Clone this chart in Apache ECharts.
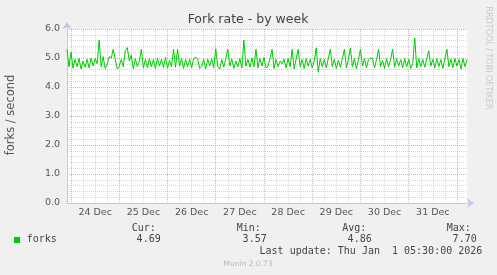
<!DOCTYPE html>
<html><head><meta charset="utf-8">
<script src="https://cdn.jsdelivr.net/npm/echarts@6/dist/echarts.min.js"></script>
<style>html,body{margin:0;padding:0;background:#f0f0f0}#c{width:497px;height:275px}</style>
</head><body><div id="c"></div>
<script>
// hourly samples, first at 23 Dec 22:00, last at 1 Jan 05:00
const startHour = 22;
const dayLabels = ['24 Dec','25 Dec','26 Dec','27 Dec','28 Dec','29 Dec','30 Dec','31 Dec'];
const yTicks = [0, 1, 2, 3, 4, 5, 6];
const forks = [
 5.30,4.70,5.20,4.65,4.95,4.70,4.98,4.62,4.90,4.68,
 4.95,4.66,5.00,4.72,4.98,4.80,5.62,4.70,5.05,4.64,
 4.80,5.05,5.00,5.30,4.95,4.62,4.72,4.95,4.70,5.25,
 5.36,4.90,5.10,4.62,4.98,4.70,4.90,5.30,4.65,4.95,
 4.66,4.98,4.70,4.95,4.64,5.00,4.72,4.96,4.68,5.02,
 4.65,4.92,4.70,5.30,4.68,5.30,4.72,4.98,4.64,4.95,
 4.70,4.96,4.66,4.98,5.02,4.98,4.64,4.70,4.95,4.62,
 4.96,4.72,4.98,4.66,5.32,4.70,4.62,4.95,4.68,4.98,
 5.30,4.72,4.96,4.64,4.90,4.70,4.98,4.66,5.62,4.72,
 4.95,4.68,5.00,4.70,5.30,4.66,4.98,4.72,5.02,4.66,
 4.72,4.98,5.30,4.64,4.95,4.70,4.90,4.80,4.96,4.66,
 4.98,4.70,5.30,4.62,4.96,5.30,4.70,4.95,4.64,4.98,
 4.72,4.96,4.66,4.90,5.35,4.51,4.98,4.70,4.95,4.66,
 4.98,5.30,4.70,4.96,4.64,4.92,4.68,4.98,5.30,4.66,
 4.95,5.35,4.70,4.98,4.62,4.96,5.30,4.72,4.98,4.66,
 4.95,5.00,4.98,4.66,4.95,5.30,4.70,4.92,4.64,4.98,
 4.70,4.96,5.30,4.68,4.98,4.72,4.95,4.66,4.98,4.70,
 4.96,4.64,4.80,5.69,4.66,4.98,4.70,4.95,4.68,4.98,
 5.25,4.72,4.96,4.66,4.98,4.70,4.95,4.64,4.98,5.30,
 4.70,4.96,4.66,4.98,4.72,4.95,4.62,4.98,4.70,4.95
];
const statNames = ['Cur:','Min:','Avg:','Max:'];
const statValues = ['4.69','3.57','4.86','7.70'];
const seriesName = 'forks';

const categories = forks.map((v, i) => String((startHour + i) % 24));
const hourOf = i => (startHour + i) % 24;

const MAJOR = 'rgba(235,110,110,0.6)';
const MINOR = 'rgba(160,160,160,0.4)';
const AXIS = '#c4c4f4';
const sans = '"DejaVu Sans"';
const mono = '"DejaVu Sans Mono"';

const statLeft = [131.7, 236.7, 342.3, 446.7];
const statRight = [160.7, 266.7, 371.7, 476.7];

const graphics = [
  {type:'text', x:248, y:19.5, style:{text:'Fork rate - by week', font:'12.5px '+sans, fill:'#444', align:'center', verticalAlign:'middle', textAlign:'center', textVerticalAlign:'middle'}},
  {type:'text', x:11, y:115, rotation:Math.PI/2, style:{text:'forks / second', font:'11.5px '+sans, fill:'#555', align:'center', verticalAlign:'middle', textAlign:'center', textVerticalAlign:'middle'}},
  {type:'text', x:488, y:58, rotation:-Math.PI/2, style:{text:'RRDTOOL / TOBI OETIKER', font:'8px '+sans, fill:'#c8c8c8', align:'center', verticalAlign:'middle', textAlign:'center', textVerticalAlign:'middle'}},
  {type:'rect', shape:{x:14, y:237, width:6, height:6}, style:{fill:'#00cc00'}},
  {type:'text', x:26.7, y:239.5, style:{text:seriesName, font:'10px '+mono, fill:'#444', align:'left', verticalAlign:'middle', textAlign:'left', textVerticalAlign:'middle'}},
  {type:'text', x:482.3, y:251.7, style:{text:'Last update: Thu Jan  1 05:30:00 2026', font:'10px '+mono, fill:'#444', align:'right', verticalAlign:'middle', textAlign:'right', textVerticalAlign:'middle'}},
  {type:'text', x:248, y:264.3, style:{text:'Munin 2.0.73', font:'7.5px '+sans, fill:'#bbbbbb', align:'center', verticalAlign:'middle', textAlign:'center', textVerticalAlign:'middle'}}
];
statNames.forEach((n, k) => {
  graphics.push({type:'text', x:statLeft[k], y:228.5, style:{text:n, font:'10px '+mono, fill:'#444', align:'left', verticalAlign:'middle', textAlign:'left', textVerticalAlign:'middle'}});
  graphics.push({type:'text', x:statRight[k], y:239.5, style:{text:statValues[k], font:'10px '+mono, fill:'#444', align:'right', verticalAlign:'middle', textAlign:'right', textVerticalAlign:'middle'}});
});

const chart = echarts.init(document.getElementById('c'), null, {renderer:'canvas'});
chart.setOption({
  animation:false,
  backgroundColor:'#f0f0f0',
  grid:{left:67, top:29, right:30, bottom:72, show:true, backgroundColor:'#ffffff', borderWidth:0, containLabel:false},
  xAxis:[
    {type:'category', data:categories, boundaryGap:false, position:'bottom',
     axisLine:{show:true, lineStyle:{color:AXIS, width:1}, symbol:['none','arrow'], symbolSize:[7,7], symbolOffset:[0,7]},
     axisTick:{show:false},
     axisLabel:{interval:(i) => hourOf(i) === 12, formatter:(v, i) => dayLabels[Math.round((i - (24 - startHour) - 12) / 24)],
       color:'#555', fontFamily:'DejaVu Sans', fontSize:9.5, margin:5},
     splitLine:{show:true, interval:(i) => hourOf(i) === 0, lineStyle:{color:[MAJOR], type:[1,1], width:1}}
    },
    {type:'category', data:categories, boundaryGap:false, position:'bottom',
     axisLine:{show:false}, axisTick:{show:false}, axisLabel:{show:false},
     splitLine:{show:true, interval:(i) => hourOf(i) % 6 === 0 && hourOf(i) !== 0, lineStyle:{color:[MINOR], type:[1,1], width:1}}
    }
  ],
  yAxis:{type:'value', min:yTicks[0], max:yTicks[yTicks.length-1], interval:1,
    axisLine:{show:true, lineStyle:{color:AXIS, width:1}, symbol:['none','arrow'], symbolSize:[7,7], symbolOffset:[0,7]},
    axisTick:{show:false},
    axisLabel:{formatter:v => v.toFixed(1), color:'#555', fontFamily:'DejaVu Sans', fontSize:9.5, margin:7},
    splitLine:{show:true, lineStyle:{color:[MAJOR], type:[1,1], width:1}},
    minorTick:{show:false, splitNumber:5},
    minorSplitLine:{show:true, lineStyle:{color:MINOR, type:[1,1], width:1}}
  },
  series:[{name:seriesName, type:'line', data:forks, xAxisIndex:0, showSymbol:false, symbol:'none',
    lineStyle:{color:'#00cc00', width:1}, itemStyle:{color:'#00cc00'}, z:5}],
  graphic:graphics
});
</script></body></html>
